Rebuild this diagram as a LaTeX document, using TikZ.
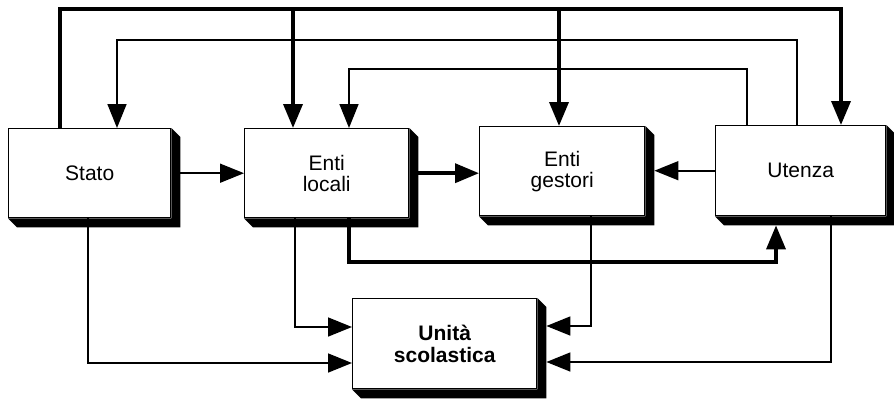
\documentclass[tikz,border=0pt]{standalone}
\usepackage{fontspec}
\setmainfont{Liberation Sans}
\usetikzlibrary{arrows.meta}
\begin{document}
\begin{tikzpicture}[x=1pt,y=-1pt,
  box/.style={draw, line width=1.4pt, fill=white, inner sep=0pt, align=center,
    anchor=north west, font=\fontsize{21}{21}\selectfont},
  thinline/.style={line width=1.6pt},
  thickline/.style={line width=3.6pt},
  tip/.style={-{Triangle[length=24pt,width=19pt]}},
  shadowfill/.style={fill=black}]
\useasboundingbox (0,0) rectangle (894,400);

\node[box, minimum width=162pt, minimum height=89pt] (stato) at (8,128) {\raisebox{-4pt}{Stato}};
\node[box, minimum width=164pt, minimum height=89pt] (locali) at (244,128) {Enti\\locali};
\node[box, minimum width=165pt, minimum height=89pt] (gestori) at (479,126) {Enti\\gestori};
\node[box, minimum width=170pt, minimum height=90pt] (utenza) at (715,125) {Utenza};
\node[box, minimum width=184pt, minimum height=90pt, font=\fontsize{21}{22}\selectfont\bfseries] (unita) at (352,298) {Unità\\scolastica};

\foreach \n in {stato,locali,gestori,utenza,unita}{
  \fill[shadowfill] (\n.north east) -- ([shift={(9,9)}]\n.north east)
    -- ([shift={(9,9)}]\n.south east) -- ([shift={(9,9)}]\n.south west)
    -- (\n.south west) -- (\n.south east) -- cycle;
  \coordinate (\n-sh) at ([shift={(9,9)}]\n.south east);
}

% thick top line
\coordinate (t1) at (293,9);
\coordinate (t2) at (559,9);
\draw[thickline, tip] (60,0 |- stato.north) -- (60,9) -- (841,9) -- (841,0 |- utenza.north);
\draw[thickline, tip] (t1) -- (293,0 |- locali.north);
\draw[thickline, tip] (t2) -- (559,0 |- gestori.north);

% thin top lines
\draw[thinline, tip] (797,0 |- utenza.north) -- (797,40) -- (117,40) -- (117,0 |- stato.north);
\draw[thinline, tip] (747,0 |- utenza.north) -- (747,69) -- (349,69) -- (349,0 |- locali.north);

% horizontal middle
\draw[thinline, tip] (stato-sh |- stato.east) -- (locali.west);
\draw[thickline, tip] (locali-sh |- locali.east) -- (gestori.west |- locali.east);
\draw[thinline, tip] (utenza.west) -- (gestori-sh |- utenza.west);

% bottom connections
\draw[thickline, tip] (349,0 |- locali.south) -- (349,262) -- (776,262) -- (776,0 |- utenza-sh);
\draw[thinline, tip] (295,0 |- locali.south) -- (295,327) -- (unita.west |- 295,327);
\draw[thinline, tip] (88,0 |- stato.south) -- (88,363) -- (unita.west |- 88,363);
\draw[thinline, tip] (591,0 |- gestori.south) -- (591,326) -- (unita-sh |- 591,326);
\draw[thinline, tip] (831,0 |- utenza.south) -- (831,362) -- (unita-sh |- 831,362);
\end{tikzpicture}
\end{document}
